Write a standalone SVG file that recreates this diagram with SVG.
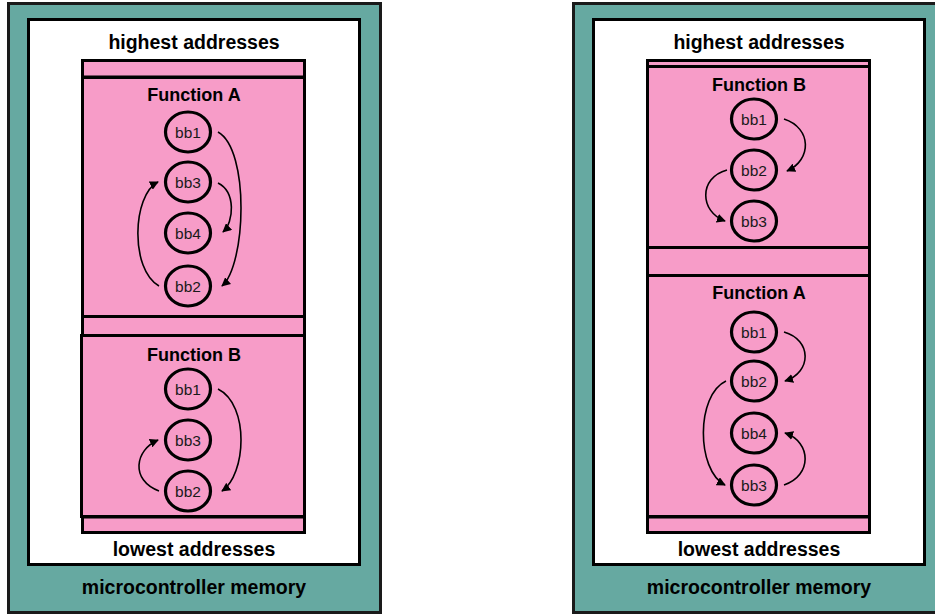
<svg xmlns="http://www.w3.org/2000/svg" width="935" height="614" viewBox="0 0 935 614">
<style>
.outer{fill:#66A9A1;stroke:#1a1a1a;stroke-width:3}
.inner{fill:#ffffff;stroke:#000;stroke-width:3}
.pink{fill:#F79CC8;stroke:#000;stroke-width:3}
.bb{fill:#F79CC8;stroke:#000;stroke-width:3.2}
.lbl{font-family:"Liberation Sans",Arial,sans-serif;font-weight:bold;font-size:19.5px;fill:#000;text-anchor:middle}
.fn{font-family:"Liberation Sans",Arial,sans-serif;font-weight:bold;font-size:18px;fill:#000;text-anchor:middle}
.bt{font-family:"Liberation Sans",Arial,sans-serif;font-size:15.5px;fill:#1a1a1a;text-anchor:middle}
.arr{fill:none;stroke:#000;stroke-width:1.6;marker-end:url(#ah)}
</style>
<defs>
<marker id="ah" viewBox="0 0 10 10" refX="9" refY="5" markerUnits="userSpaceOnUse" markerWidth="9" markerHeight="9" orient="auto">
<path d="M0,0 L10,5 L0,10 z" fill="#000"/>
</marker>
</defs>

<g id="left-memory">
<rect class="outer" x="8.5" y="3.5" width="372" height="609"/>
<rect class="inner" x="28.5" y="19.5" width="331" height="545"/>
<text class="lbl" x="194" y="49">highest addresses</text>
<text class="lbl" x="194" y="556">lowest addresses</text>
<text class="lbl" x="194" y="594">microcontroller memory</text>
</g>
<g id="left-stack">
<rect class="pink" x="82.5" y="60.5" width="222" height="472"/>
<line x1="82" y1="77" x2="305" y2="77" stroke="#000" stroke-width="3"/>
<line x1="82" y1="517" x2="305" y2="517" stroke="#000" stroke-width="3"/>
</g>
<g id="left-funcA">
<rect class="pink" x="82.5" y="77.5" width="222" height="239"/>
<text class="fn" x="194" y="101">Function A</text>
</g>
<g id="left-funcB">
<rect class="pink" x="81.5" y="335.5" width="223" height="181"/>
<text class="fn" x="194" y="361">Function B</text>
</g>
<g id="left-A-bb1"><ellipse class="bb" cx="188" cy="132" rx="22.5" ry="20"/><text class="bt" x="188" y="137.5">bb1</text></g>
<g id="left-A-bb3"><ellipse class="bb" cx="188" cy="182" rx="22.5" ry="20"/><text class="bt" x="188" y="187.5">bb3</text></g>
<g id="left-A-bb4"><ellipse class="bb" cx="188" cy="233" rx="22.5" ry="20"/><text class="bt" x="188" y="238.5">bb4</text></g>
<g id="left-A-bb2"><ellipse class="bb" cx="188" cy="286" rx="22.5" ry="20"/><text class="bt" x="188" y="291.5">bb2</text></g>
<g id="left-B-bb1"><ellipse class="bb" cx="188" cy="389" rx="22.5" ry="20"/><text class="bt" x="188" y="394.5">bb1</text></g>
<g id="left-B-bb3"><ellipse class="bb" cx="188" cy="440" rx="22.5" ry="20"/><text class="bt" x="188" y="445.5">bb3</text></g>
<g id="left-B-bb2"><ellipse class="bb" cx="188" cy="491" rx="22.5" ry="20"/><text class="bt" x="188" y="496.5">bb2</text></g>

<g id="right-memory">
<rect class="outer" x="573.5" y="3.5" width="372" height="609"/>
<rect class="inner" x="593.5" y="19.5" width="331" height="545"/>
<text class="lbl" x="759" y="49">highest addresses</text>
<text class="lbl" x="759" y="556">lowest addresses</text>
<text class="lbl" x="759" y="594">microcontroller memory</text>
</g>
<g id="right-stack">
<rect class="pink" x="647.5" y="60.5" width="222" height="472"/>
<line x1="647" y1="517" x2="870" y2="517" stroke="#000" stroke-width="3"/>
</g>
<g id="right-funcB">
<rect class="pink" x="647.5" y="66.5" width="222" height="181"/>
<text class="fn" x="759" y="91">Function B</text>
</g>
<g id="right-funcA">
<rect class="pink" x="647.5" y="275.5" width="222" height="241"/>
<text class="fn" x="759" y="299">Function A</text>
</g>
<g id="right-B-bb1"><ellipse class="bb" cx="754" cy="119" rx="22.5" ry="20"/><text class="bt" x="754" y="124.5">bb1</text></g>
<g id="right-B-bb2"><ellipse class="bb" cx="754" cy="170" rx="22.5" ry="20"/><text class="bt" x="754" y="175.5">bb2</text></g>
<g id="right-B-bb3"><ellipse class="bb" cx="754" cy="221" rx="22.5" ry="20"/><text class="bt" x="754" y="226.5">bb3</text></g>
<g id="right-A-bb1"><ellipse class="bb" cx="754" cy="332" rx="22.5" ry="20"/><text class="bt" x="754" y="337.5">bb1</text></g>
<g id="right-A-bb2"><ellipse class="bb" cx="754" cy="381" rx="22.5" ry="20"/><text class="bt" x="754" y="386.5">bb2</text></g>
<g id="right-A-bb4"><ellipse class="bb" cx="754" cy="433" rx="22.5" ry="20"/><text class="bt" x="754" y="438.5">bb4</text></g>
<g id="right-A-bb3"><ellipse class="bb" cx="754" cy="485" rx="22.5" ry="20"/><text class="bt" x="754" y="490.5">bb3</text></g>

<g id="connectors">
<path class="arr" d="M218,132 C250,150 246,265 222,286"/>
<path class="arr" d="M218,183 C236,192 234,222 223,232"/>
<path class="arr" d="M159,286 C130,270 132,195 158,182"/>
<path class="arr" d="M218,389 C250,405 246,475 222,491"/>
<path class="arr" d="M159,491 C130,480 135,450 158,440"/>
<path class="arr" d="M784,119 C812,128 812,160 787,171"/>
<path class="arr" d="M727,170 C698,178 700,212 725,221"/>
<path class="arr" d="M784,332 C812,340 812,372 785,381"/>
<path class="arr" d="M726,381 C696,395 696,470 725,485"/>
<path class="arr" d="M784,485 C812,476 812,442 785,433"/>
</g>
</svg>
